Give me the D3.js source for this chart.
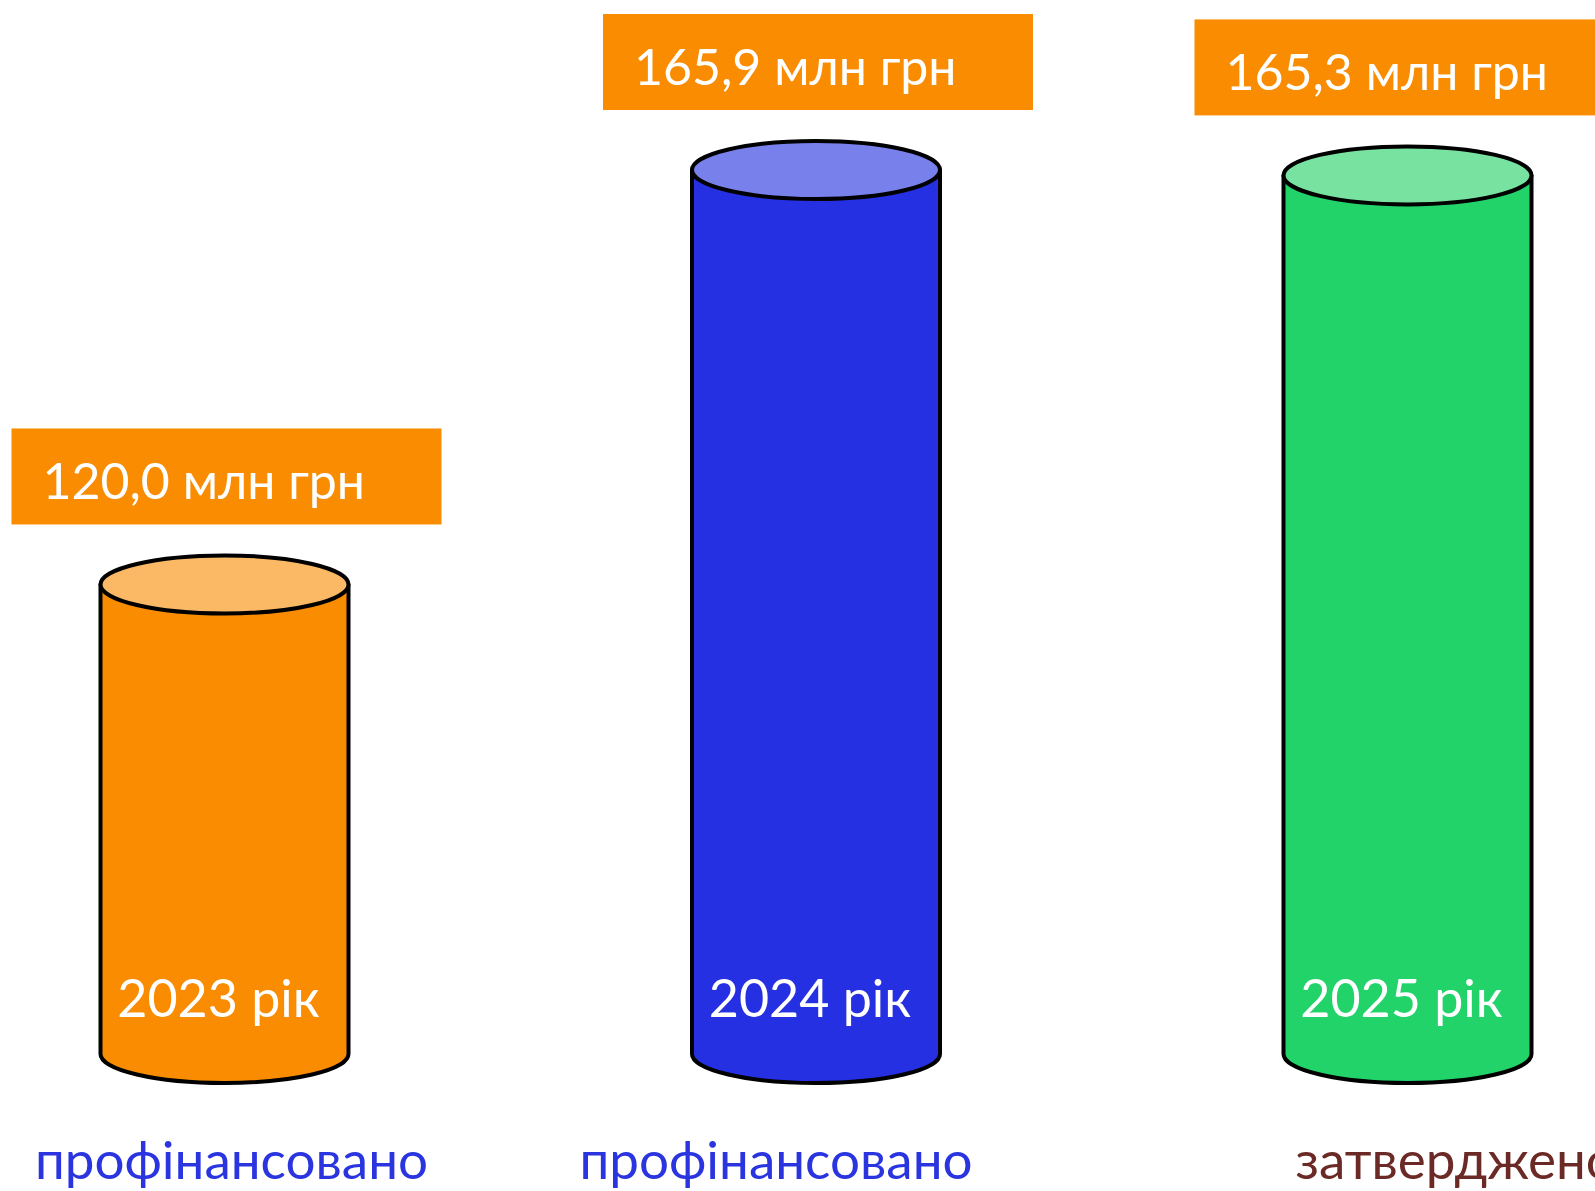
<!DOCTYPE html>
<html><head><meta charset="utf-8">
<script src="https://cdn.jsdelivr.net/npm/d3@7"></script>
<style>html,body{margin:0;padding:0;background:#fff;overflow:hidden}</style>
</head><body>
<svg id="c" width="1595" height="1191"></svg>
<script>
const years = ["2023", "2024", "2025"];
const values = [120.0, 165.9, 165.3];
const valueLabels = ["120,0 млн грн", "165,9 млн грн", "165,3 млн грн"];
const yearLabels = ["2023 рік", "2024 рік", "2025 рік"];
const captions = ["профінансовано", "профінансовано", "затверджено"];

const bodyColors = ["#F98C00", "#2530E2", "#22D36A"];
const topColors = ["#FBB865", "#7880EC", "#78E3A0"];
const captionColors = ["#2A35E0", "#2A35E0", "#6B2A26"];
const captionDx = [7, -40, 48];

const svg = d3.select("#c");
const x = d3.scalePoint().domain(years).range([224.5, 1407.5]);
const y = d3.scaleLinear().domain([68, 165.9]).range([1054, 170]);
const rx = 124, ry = 29;
const baseY = y(68);
const font = "Lato, 'Noto Sans', sans-serif";

const data = years.map((yr, i) => ({yr, v: values[i], i}));

const g = svg.selectAll("g.cyl").data(data).join("g").attr("class", "cyl");

// body
g.append("path")
  .attr("d", d => {
    const cx = x(d.yr), top = y(d.v);
    return `M${cx - rx},${top} L${cx - rx},${baseY} A${rx},${ry} 0 0 0 ${cx + rx},${baseY} L${cx + rx},${top} Z`;
  })
  .attr("fill", d => bodyColors[d.i])
  .attr("stroke", "#000").attr("stroke-width", 4).attr("stroke-linejoin", "round");

// top ellipse
g.append("ellipse")
  .attr("cx", d => x(d.yr)).attr("cy", d => y(d.v))
  .attr("rx", rx).attr("ry", ry)
  .attr("fill", d => topColors[d.i])
  .attr("stroke", "#000").attr("stroke-width", 4);

// value boxes
const boxW = 430, boxH = 96;
g.append("rect")
  .attr("x", d => x(d.yr) - 213)
  .attr("y", d => y(d.v) - ry - 1 - 30 - boxH)
  .attr("width", boxW).attr("height", boxH)
  .attr("fill", "#F98C00");

g.append("text")
  .attr("x", d => x(d.yr) - 213 + 31)
  .attr("y", d => y(d.v) - ry - 1 - 30 - boxH + 71)
  .attr("fill", "#fff")
  .attr("font-family", font).attr("font-size", 50)
  .text(d => valueLabels[d.i]);

// year labels
g.append("text")
  .attr("x", d => x(d.yr) - 6)
  .attr("y", 1017)
  .attr("text-anchor", "middle")
  .attr("fill", "#fff")
  .attr("font-family", font).attr("font-size", 52)
  .text(d => yearLabels[d.i]);

// captions
g.append("text")
  .attr("x", d => x(d.yr) + captionDx[d.i])
  .attr("y", 1179)
  .attr("text-anchor", "middle")
  .attr("fill", d => captionColors[d.i])
  .attr("font-family", font).attr("font-size", 53)
  .text(d => captions[d.i]);
</script>
</body></html>
